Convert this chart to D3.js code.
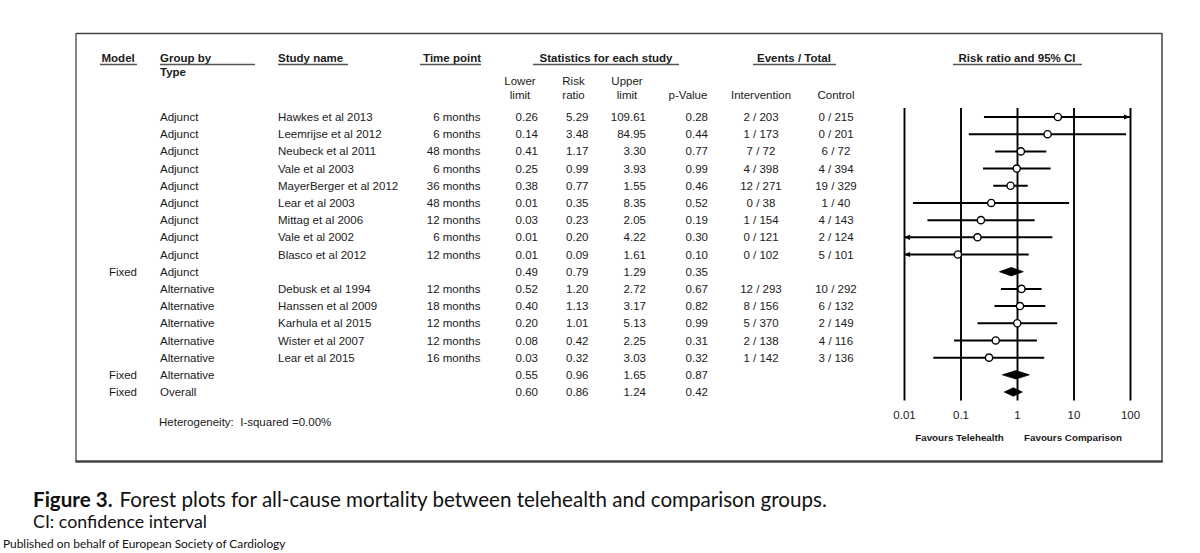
<!DOCTYPE html>
<html><head><meta charset="utf-8">
<script src="https://cdn.jsdelivr.net/npm/d3@7/dist/d3.min.js"></script>
<style>
html,body{margin:0;padding:0;background:#fff;}
svg{display:block;}
</style></head>
<body>
<svg id="chart" width="1200" height="553"></svg>
<script>
// ---------- DATA ----------
const models = ["","","","","","","","","","Fixed","","","","","","Fixed","Fixed"];
const groups = ["Adjunct","Adjunct","Adjunct","Adjunct","Adjunct","Adjunct","Adjunct","Adjunct","Adjunct","Adjunct",
  "Alternative","Alternative","Alternative","Alternative","Alternative","Alternative","Overall"];
const studies = ["Hawkes et al 2013","Leemrijse et al 2012","Neubeck et al 2011","Vale et al 2003","MayerBerger et al 2012",
  "Lear et al 2003","Mittag et al 2006","Vale et al 2002","Blasco et al 2012","",
  "Debusk et al 1994","Hanssen et al 2009","Karhula et al 2015","Wister et al 2007","Lear et al 2015","",""];
const timePoints = ["6 months","6 months","48 months","6 months","36 months","48 months","12 months","6 months","12 months","",
  "12 months","18 months","12 months","12 months","16 months","",""];
const lowerLimit = [0.26,0.14,0.41,0.25,0.38,0.0144,0.026,0.006,0.006,0.49,0.52,0.40,0.20,0.077,0.033,0.55,0.60];
const riskRatio  = [5.29,3.48,1.17,0.99,0.77,0.35,0.23,0.20,0.09,0.79,1.20,1.13,1.01,0.42,0.32,0.96,0.86];
const upperLimit = [109.61,84.95,3.30,3.93,1.55,8.35,2.05,4.22,1.61,1.29,2.72,3.17,5.13,2.25,3.03,1.65,1.24];
const pValues    = [0.28,0.44,0.77,0.99,0.46,0.52,0.19,0.30,0.10,0.35,0.67,0.82,0.99,0.31,0.32,0.87,0.42];
const intervention = ["2 / 203","1 / 173","7 / 72","4 / 398","12 / 271","0 / 38","1 / 154","0 / 121","0 / 102","",
  "12 / 293","8 / 156","5 / 370","2 / 138","1 / 142","",""];
const control = ["0 / 215","0 / 201","6 / 72","4 / 394","19 / 329","1 / 40","4 / 143","2 / 124","5 / 101","",
  "10 / 292","6 / 132","2 / 149","4 / 116","3 / 136","",""];
const isSummary = [0,0,0,0,0,0,0,0,0,1,0,0,0,0,0,1,1];
const tickValues = [0.01,0.1,1,10,100];
const tickLabels = ["0.01","0.1","1","10","100"];

// ---------- DRAW ----------
const svg = d3.select("#chart");
svg.append("rect").attr("width",1200).attr("height",553).attr("fill","#fff");
const FONT = "'Liberation Sans', Arial, Helvetica, sans-serif";
const TXT = "#1a1a1a";

// frame
svg.append("line").attr("x1",76).attr("x2",1162).attr("y1",33.5).attr("y2",33.5).attr("stroke","#444").attr("stroke-width",1.3);
svg.append("line").attr("x1",76).attr("x2",76).attr("y1",33).attr("y2",462).attr("stroke","#444").attr("stroke-width",1.3);
svg.append("line").attr("x1",1162).attr("x2",1162).attr("y1",33).attr("y2",462).attr("stroke","#444").attr("stroke-width",1.5);
svg.append("line").attr("x1",75.5).attr("x2",1162.7).attr("y1",461.5).attr("y2",461.5).attr("stroke","#444").attr("stroke-width",2.4);

const n = studies.length;
const y = d3.scalePoint().domain(d3.range(n)).range([117, 392]);
const x = d3.scaleLog().domain([0.01,100]).range([904,1130]);
const f2 = d3.format(".2f");

const tbl = svg.append("g").attr("font-family",FONT).attr("font-size","11.5px").attr("fill",TXT);

// headers
const hdr = svg.append("g").attr("font-family",FONT).attr("font-size","11.5px").attr("font-weight","bold").attr("fill",TXT);
function header(txt, xx, yy, anchor){ hdr.append("text").attr("x",xx).attr("y",yy).attr("text-anchor",anchor||"start").text(txt); }
function uline(x1,x2){ svg.append("line").attr("x1",x1).attr("x2",x2).attr("y1",64.5).attr("y2",64.5).attr("stroke","#555").attr("stroke-width",1.4); }
header("Model",101.5,62); uline(100,137);
header("Group by",160,62); header("Type",160,76); uline(160,255);
header("Study name",278,62); uline(278,348);
header("Time point",481,62,"end"); uline(420,481);
header("Statistics for each study",606,62,"middle"); uline(533,679);
header("Events / Total",794,62,"middle"); uline(753,836);
header("Risk ratio and 95% CI",1017,62,"middle"); uline(953,1082);

const sub = svg.append("g").attr("font-family",FONT).attr("font-size","11.5px").attr("fill",TXT).attr("text-anchor","middle");
[["Lower",520,85],["limit",520,99],["Risk",573.5,85],["ratio",573.5,99],["Upper",627,85],["limit",627,99],
 ["p-Value",688,99],["Intervention",761,99],["Control",836,99]].forEach(d=>{
  sub.append("text").attr("x",d[1]).attr("y",d[2]).text(d[0]);
});

// table rows
const rows = tbl.selectAll("g.row").data(d3.range(n)).join("g").attr("class","row")
  .attr("transform", i => `translate(0,${y(i)+4.1})`);
rows.append("text").attr("x",137).attr("text-anchor","end").text(i=>models[i]);
rows.append("text").attr("x",160).text(i=>groups[i]);
rows.append("text").attr("x",278).text(i=>studies[i]);
rows.append("text").attr("x",480.5).attr("text-anchor","end").text(i=>timePoints[i]);
rows.append("text").attr("x",538).attr("text-anchor","end").text(i=>f2(lowerLimit[i]));
rows.append("text").attr("x",588.5).attr("text-anchor","end").text(i=>f2(riskRatio[i]));
rows.append("text").attr("x",646).attr("text-anchor","end").text(i=>f2(upperLimit[i]));
rows.append("text").attr("x",708).attr("text-anchor","end").text(i=>f2(pValues[i]));
rows.append("text").attr("x",761).attr("text-anchor","middle").text(i=>intervention[i]);
rows.append("text").attr("x",836).attr("text-anchor","middle").text(i=>control[i]);

// heterogeneity
svg.append("text").attr("x",159).attr("y",426).attr("font-family",FONT).attr("font-size","11.5px").attr("fill",TXT)
  .attr("xml:space","preserve").text("Heterogeneity:  I-squared =0.00%");

// forest axis with vertical reference lines
const axisY = 400.5;
const axis = d3.axisBottom(x).tickValues(tickValues).tickFormat((d,i)=>tickLabels[i])
  .tickSize(-(axisY-108)).tickSizeOuter(0).tickPadding(10.5);
const ag = svg.append("g").attr("transform",`translate(0,${axisY})`).call(axis);
ag.select(".domain").remove();
ag.selectAll(".tick line").attr("stroke","#000").attr("stroke-width",1.9);
ag.selectAll(".tick text").attr("font-family",FONT).attr("font-size","11.5px").attr("fill",TXT);

// favours labels
const fav = svg.append("g").attr("font-family",FONT).attr("font-size","9.8px").attr("font-weight","bold").attr("fill",TXT).attr("text-anchor","middle");
fav.append("text").attr("x",959.5).attr("y",440.5).text("Favours Telehealth");
fav.append("text").attr("x",1073).attr("y",440.5).text("Favours Comparison");

// marks
const forest = svg.append("g");
const [dmin,dmax] = x.domain();
d3.range(n).forEach(i=>{
  const yy = y(i);
  if (isSummary[i]) {
    const pts = [[x(lowerLimit[i]),yy],[x(riskRatio[i]),yy-4.2],[x(upperLimit[i]),yy],[x(riskRatio[i]),yy+4.2]];
    forest.append("path").attr("d","M"+pts.join("L")+"Z").attr("fill","#000").attr("stroke","#000").attr("stroke-width",0.8);
    return;
  }
  const lo = Math.max(lowerLimit[i], dmin), hi = Math.min(upperLimit[i], dmax);
  forest.append("line").attr("x1",x(lo)).attr("x2",x(hi)).attr("y1",yy).attr("y2",yy)
    .attr("stroke","#000").attr("stroke-width",2);
  if (lowerLimit[i] < dmin) {
    const xa = x(dmin);
    forest.append("path").attr("d",`M${xa},${yy}L${xa+6},${yy-2.6}L${xa+6},${yy+2.6}Z`).attr("fill","#000");
  }
  if (upperLimit[i] > dmax) {
    const xa = x(dmax);
    forest.append("path").attr("d",`M${xa},${yy}L${xa-6},${yy-2.6}L${xa-6},${yy+2.6}Z`).attr("fill","#000");
  }
  forest.append("circle").attr("cx",x(riskRatio[i])).attr("cy",yy).attr("r",3.6)
    .attr("fill","#fff").attr("stroke","#000").attr("stroke-width",1.4);
});

// caption
const CAP = "Lato, 'Open Sans', sans-serif";
const cap = svg.append("text").attr("x",33).attr("y",507).attr("font-family",CAP).attr("font-size","20.6px").attr("fill","#111");
cap.append("tspan").attr("font-weight","bold").text("Figure 3.");
cap.append("tspan").attr("dx",7).text("Forest plots for all-cause mortality between telehealth and comparison groups.");
svg.append("text").attr("x",33).attr("y",528).attr("font-family",CAP).attr("font-size","17.8px").attr("fill","#111").text("CI: confidence interval");
svg.append("text").attr("x",3).attr("y",547.5).attr("font-family",CAP).attr("font-size","11.9px").attr("fill","#111").text("Published on behalf of European Society of Cardiology");
</script>
</body></html>
